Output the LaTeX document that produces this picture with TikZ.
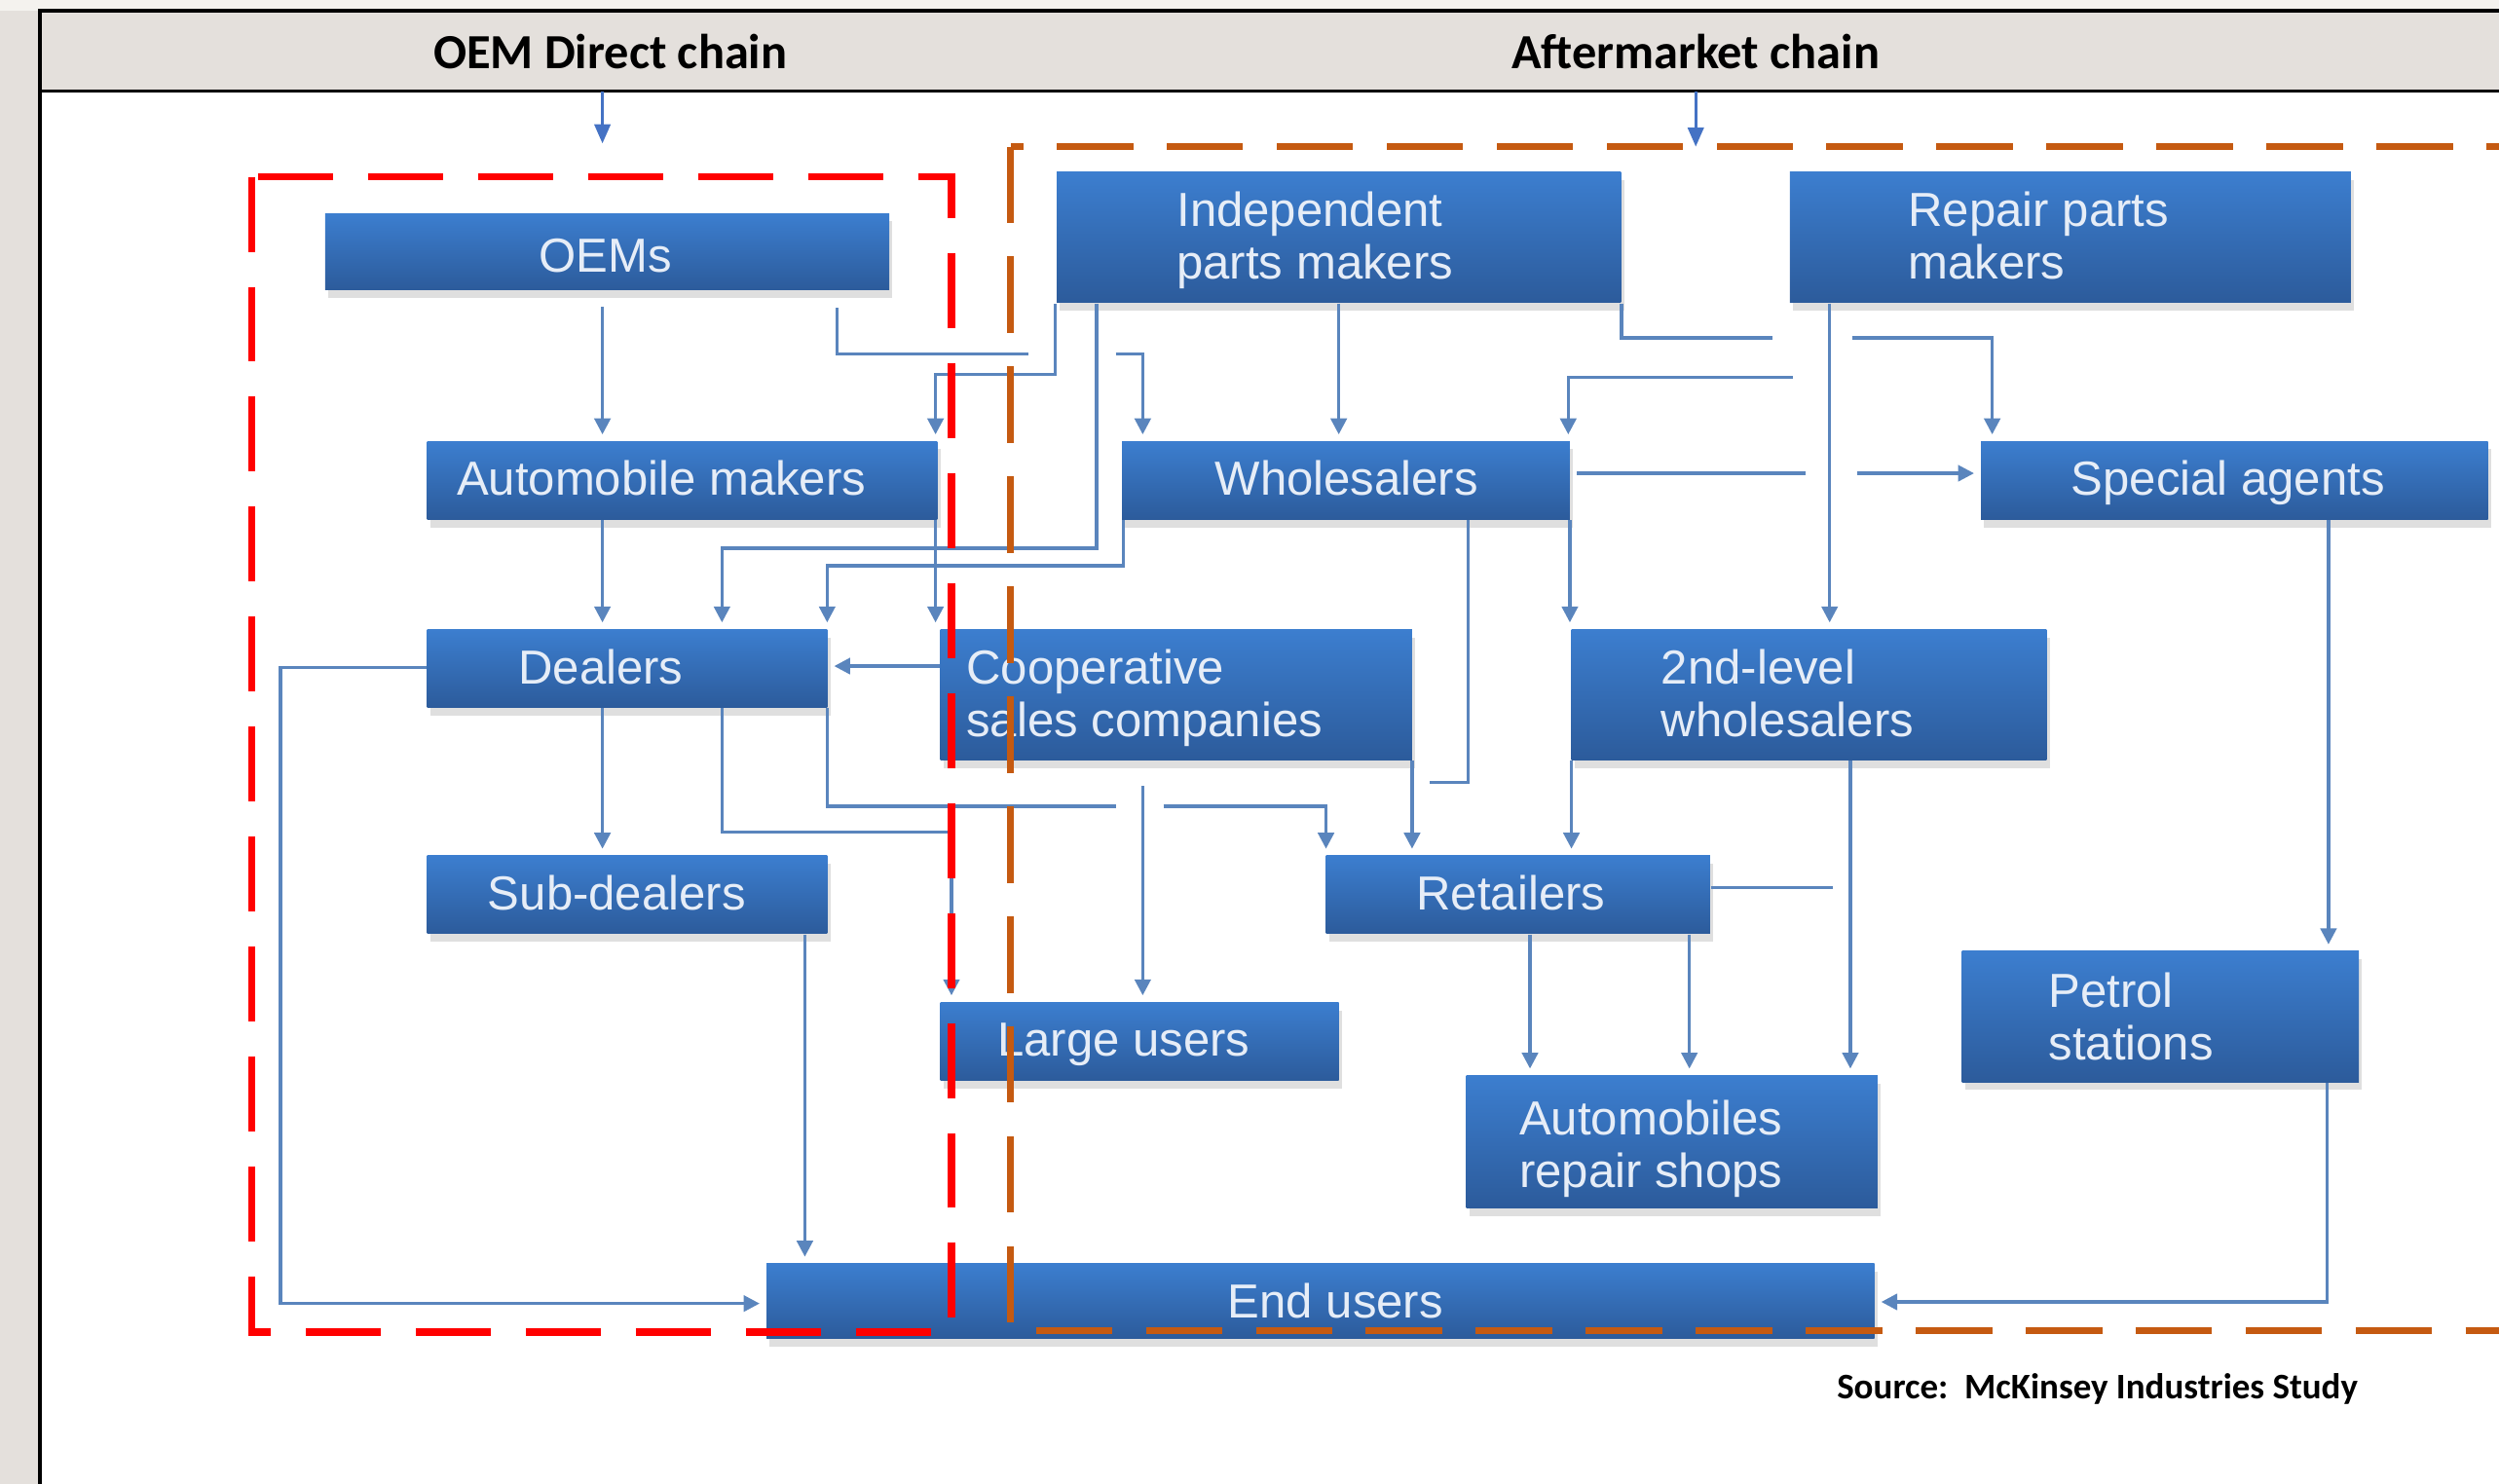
\documentclass[tikz,border=0pt]{standalone}
\usepackage{fontspec}
\setmainfont{Liberation Sans}
\newfontfamily\carl{Carlito}
\usetikzlibrary{arrows.meta,fit,shadows}
\definecolor{hdrgray}{HTML}{E4E0DC}
\definecolor{topstrip}{HTML}{F4F2EE}
\definecolor{boxtop}{HTML}{3C7ECF}
\definecolor{boxbot}{HTML}{2C5B9B}
\definecolor{conncol}{HTML}{5A85BD}
\definecolor{hdrarrow}{HTML}{4472C4}
\definecolor{oemred}{HTML}{FF0000}
\definecolor{aftorange}{HTML}{C55A11}
\definecolor{boxtext}{HTML}{E6EDF7}
\tikzset{
  bluebox/.style={inner sep=0pt, draw=none, top color=boxtop, bottom color=boxbot,
    drop shadow={shadow xshift=1pt, shadow yshift=-2.5pt, opacity=0.25, fill=black!50}},
  lbl/.style={inner sep=0pt, text=boxtext, font=\fontsize{15}{16.5}\selectfont, align=left},
  conn/.style={draw=conncol, line width=1pt, shorten >=2pt, -{Triangle[length=5pt,width=5pt]}},
  seg/.style={draw=conncol, line width=1pt},
  hdr/.style={inner sep=0pt, font=\carl\bfseries\fontsize{15.4}{18}\selectfont},
  harrow/.style={draw=hdrarrow, line width=0.9pt, -{Triangle[length=6pt,width=5pt]}},
}
\begin{document}
\begin{tikzpicture}[x=0.5pt,y=-0.5pt]
\path[use as bounding box, clip] (0,0) rectangle (1568,931);
% background
\fill[white] (0,0) rectangle (1568,931);
\fill[topstrip] (0,0) rectangle (1568,7);
\fill[hdrgray] (0,7) rectangle (25,931);
\node[fit={(25,7) (1568,57)}, inner sep=0pt, fill=hdrgray, draw=none] (band) {};
\draw[black, line width=1.2pt] (1568,7) -- (25,7) -- (25,931);
\draw[black, line width=1pt] (25,57) -- (1568,57);
% headers
\node[hdr, anchor=base] (h1) at (383,43) {OEM Direct chain};
\node[hdr, anchor=base] (h2) at (1064,43) {Aftermarket chain};
\coordinate (ha1) at (378,90);
\coordinate (ha2) at (1064,92);
\draw[harrow] (378,0 |- band.south) -- (ha1);
\draw[harrow] (1064,0 |- band.south) -- (ha2);
% boxes
\node[bluebox, fit={(204,134) (558,182)}] (oem) {};
\node[bluebox, fit={(663,108) (1017,190)}] (ipm) {};
\node[bluebox, fit={(1123,108) (1475,190)}] (rpm) {};
\node[bluebox, fit={(268,277) (588,326)}] (amk) {};
\node[bluebox, fit={(704,277) (985,326)}] (whl) {};
\node[bluebox, fit={(1243,277) (1561,326)}] (spa) {};
\node[bluebox, fit={(268,395) (519,444)}] (dlr) {};
\node[bluebox, fit={(590,395) (886,477)}] (coop) {};
\node[bluebox, fit={(986,395) (1284,477)}] (slw) {};
\node[bluebox, fit={(268,537) (519,586)}] (sub) {};
\node[bluebox, fit={(832,537) (1073,586)}] (ret) {};
\node[bluebox, fit={(590,629) (840,678)}] (lrg) {};
\node[bluebox, fit={(1231,597) (1480,679)}] (pet) {};
\node[bluebox, fit={(920,675) (1178,758)}] (ars) {};
\node[bluebox, fit={(481,793) (1176,840)}] (endu) {};
% labels
\node[lbl, anchor=base] (toem) at (380,171) {OEMs};
\node[lbl, anchor=base west] (tipm) at (738,175) {Independent\\parts makers};
\node[lbl, anchor=base west] (trpm) at (1197,175) {Repair parts\\makers};
\node[lbl, anchor=base] (tamk) at (415,311) {Automobile makers};
\node[lbl, anchor=base] (twhl) at (845,311) {Wholesalers};
\node[lbl, anchor=base] (tspa) at (1398,311) {Special agents};
\node[lbl, anchor=base] (tdlr) at (377,429) {Dealers};
\node[lbl, anchor=base west] (tcoop) at (606,462) {Cooperative\\sales companies};
\node[lbl, anchor=base west] (tslw) at (1042,462) {2nd-level\\wholesalers};
\node[lbl, anchor=base] (tsub) at (387,571) {Sub-dealers};
\node[lbl, anchor=base] (tret) at (948,571) {Retailers};
\node[lbl, anchor=base] (tlrg) at (705,663) {Large users};
\node[lbl, anchor=base west] (tpet) at (1285,665) {Petrol\\stations};
\node[lbl, anchor=base west] (tars) at (953,745) {Automobiles\\repair shops};
\node[lbl, anchor=base] (tendu) at (838,827) {End users};
% connectors
\draw[conn, shorten <=5pt] (378,0 |- oem.south) -- (378,0 |- amk.north);
\coordinate (g1) at (645,222);
\coordinate (g2) at (700,222);
\draw[seg, shorten <=5.5pt] (525,0 |- oem.south) |- (g1);
\draw[conn] (g2) -| (717,0 |- whl.north);
\draw[conn] (662,0 |- ipm.south) -- (662,235) -| (587,0 |- amk.north);
\draw[conn] (587,0 |- amk.south) -- (587,0 |- coop.north);
\draw[conn] (688,0 |- ipm.south) |- (453,344) -- (453,0 |- dlr.north);
\draw[conn] (705,0 |- whl.south) |- (519,355) -- (519,0 |- dlr.north);
\draw[conn] (378,0 |- amk.south) -- (378,0 |- dlr.north);
\draw[conn] (coop.west |- 0,418) -- (dlr.east |- 0,418);
\draw[conn] (dlr.west |- 0,419) -| (176,818) -- (endu.west |- 0,818);
\draw[conn] (378,0 |- dlr.south) -- (378,0 |- sub.north);
\draw[conn] (453,0 |- dlr.south) |- (597,522) -- (597,0 |- lrg.north);
\coordinate (g3) at (700,506);
\coordinate (g4) at (730,506);
\draw[seg] (519,0 |- dlr.south) |- (g3);
\draw[conn] (g4) -| (832,0 |- ret.north);
\draw[conn, shorten <=8pt] (717,0 |- coop.south) -- (717,0 |- lrg.north);
\draw[conn] (886,0 |- coop.south) -- (886,0 |- ret.north);
\coordinate (g5) at (897,491);
\draw[seg] (921,0 |- whl.south) |- (g5);
\draw[conn] (985,0 |- whl.south) -- (985,0 |- slw.north);
\draw[conn] (986,0 |- slw.south) -- (986,0 |- ret.north);
\draw[conn] (840,0 |- ipm.south) -- (840,0 |- whl.north);
\coordinate (g6) at (1112,212);
\coordinate (g7) at (1162,212);
\draw[seg] (ipm.south east) |- (g6);
\draw[conn] (g7) -| (1250,0 |- spa.north);
\coordinate (g8) at (1125,237);
\draw[conn] (g8) -| (984,0 |- whl.north);
\draw[conn] (1148,0 |- rpm.south) -- (1148,0 |- slw.north);
\coordinate (g9) at (1133,297);
\coordinate (g10) at (1165,297);
\draw[seg, shorten <=2pt] (whl.east |- 0,297) -- (g9);
\draw[conn] (g10) -- (spa.west |- 0,297);
\draw[conn] (1461,0 |- spa.south) -- (1461,0 |- pet.north);
\draw[conn] (1460,0 |- pet.south) |- (endu.east |- 0,817);
\draw[conn] (1161,0 |- slw.south) -- (1161,0 |- ars.north);
\coordinate (g11) at (1150,557);
\draw[seg] (ret.east |- 0,557) -- (g11);
\draw[conn] (960,0 |- ret.south) -- (960,0 |- ars.north);
\draw[conn] (1060,0 |- ret.south) -- (1060,0 |- ars.north);
\draw[conn] (505,0 |- sub.south) -- (505,0 |- endu.north);
% dashed chain frames
\draw[oemred, line width=2.3pt, dash pattern=on 23.5pt off 11pt] (158,111) rectangle (597,836);
\draw[aftorange, line width=1.9pt, dash pattern=on 24pt off 10.5pt] (634,92) rectangle (1620,835);
% source
\node[inner sep=0pt, font=\carl\bfseries\fontsize{11.3}{13}\selectfont, anchor=base] (src) at (1316,878) {Source:\ \ McKinsey Industries Study};
\end{tikzpicture}
\end{document}
